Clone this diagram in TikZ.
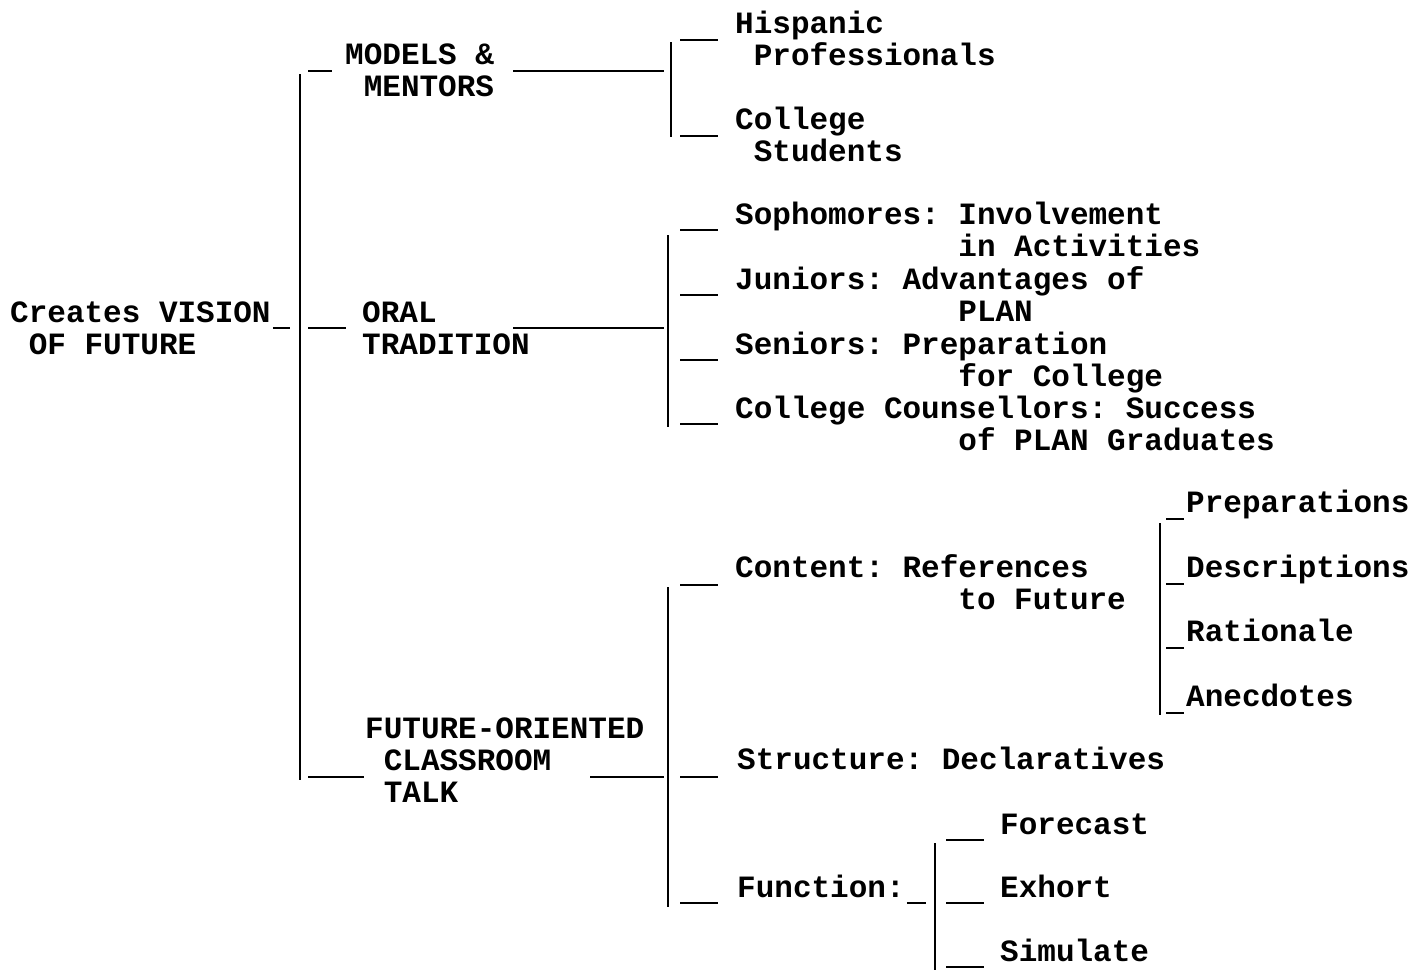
\documentclass[tikz,border=0pt]{standalone}
\usepackage{fontspec}
\setmonofont{Liberation Mono}
\usetikzlibrary{calc}
% indent by a number of typewriter columns
\newcommand{\tabto}[1]{\hspace*{#1\fontcharwd\font`M}}

\begin{document}
\begin{tikzpicture}[x=1pt,y=-1pt,
    every node/.style={font=\ttfamily\bfseries\fontsize{31}{32}\selectfont\frenchspacing,
      inner sep=0pt, anchor=base west, align=left},
    link/.style={line width=2.3pt}]
  \useasboundingbox (0,0) rectangle (1419,970);

  % bar positions
  \coordinate (bar0) at (300,0);
  \coordinate (bar1) at (668,0);
  \coordinate (bar4) at (1160,0);
  \coordinate (bar5) at (935,0);

  % texts (base = last line)
  \node (root) at (10,354) {Creates VISION\\\tabto{1}OF FUTURE};
  \node (models) at (345,96) {MODELS \&\\\tabto{1}MENTORS};
  \node (oral) at (362,354) {ORAL\\TRADITION};
  \node (future) at (365,802) {FUTURE-ORIENTED\\\tabto{1}CLASSROOM\\\tabto{1}TALK};

  \node (hisp) at (735,65) {Hispanic\\\tabto{1}Professionals};
  \node (colst) at (735,161) {College\\\tabto{1}Students};

  \node (soph) at (735,256) {Sophomores: Involvement\\\tabto{12}in Activities};
  \node (jun) at (735,321) {Juniors: Advantages of\\\tabto{12}PLAN};
  \node (sen) at (735,386) {Seniors: Preparation\\\tabto{12}for College};
  \node (couns) at (735,450) {College Counsellors: Success\\\tabto{12}of PLAN Graduates};

  \node (content) at (735,609) {Content: References\\\tabto{12}to Future};
  \node (struct) at (737,769) {Structure: Declaratives};
  \node (func) at (737,897) {Function:};

  \node (prep) at (1186,512) {Preparations};
  \node (desc) at (1186,577) {Descriptions};
  \node (rat) at (1186,641) {Rationale};
  \node (anec) at (1186,706) {Anecdotes};

  \node (fore) at (1000,834) {Forecast};
  \node (exh) at (1000,897) {Exhort};
  \node (sim) at (1000,961) {Simulate};

  % main bracket
  \draw[link] ($(root.base east)+(2,-26)$) -- ($(bar0 |- root.base)+(-10,-26)$);
  \draw[link] ($(bar0 |- models.base)+(0,-22)$) -- ($(bar0 |- future.base)+(0,-22)$);
  \draw[link] ($(bar0 |- models.base)+(8,-25)$) -- ++(24,0);
  \draw[link] ($(bar0 |- oral.base)+(8,-26)$) -- ++(38,0);
  \draw[link] ($(bar0 |- future.base)+(8,-25)$) -- ++(56,0);

  % models & mentors
  \draw[link] ($(models.base east)+(19,-25)$) -- ($(bar1 |- models.base)+(-4,-25)$);
  \draw[link] ($(bar1 |- hisp.base)+(3,-23)$) -- ($(bar1 |- colst.base)+(3,-24)$);
  \foreach \n in {hisp,colst}
    \draw[link] ($(bar1 |- \n.base)+(12,-25)$) -- ++(38,0);

  % oral tradition
  \draw[link] ($(oral.base west)+(151,-26)$) -- ($(bar1 |- oral.base)+(-4,-26)$);
  \draw[link] ($(bar1 |- soph.base)+(0,-21)$) -- ($(bar1 |- couns.base)+(0,-23)$);
  \foreach \n in {soph,jun,sen,couns}
    \draw[link] ($(bar1 |- \n.base)+(12,-26)$) -- ++(38,0);

  % classroom talk
  \draw[link] ($(future.base west)+(225,-25)$) -- ($(bar1 |- future.base)+(-4,-25)$);
  \draw[link] ($(bar1 |- content.base)+(0,-22)$) -- ($(bar1 |- func.base)+(0,10)$);
  \draw[link] ($(bar1 |- content.base)+(12,-24)$) -- ++(38,0);
  \draw[link] ($(bar1 |- struct.base)+(12,8)$) -- ++(38,0);
  \draw[link] ($(bar1 |- func.base)+(12,6)$) -- ++(38,0);

  % content details
  \draw[link] ($(bar4 |- prep.base)+(0,11)$) -- ($(bar4 |- anec.base)+(0,9)$);
  \foreach \n in {prep,desc,rat,anec}
    \draw[link] ($(bar4 |- \n.base)+(6,7)$) -- ++(18,0);

  % function
  \draw[link] ($(func.base east)+(2,6)$) -- ($(bar5 |- func.base)+(-9,6)$);
  \draw[link] ($(bar5 |- fore.base)+(0,9)$) -- ($(bar5 |- sim.base)+(0,9)$);
  \foreach \n in {fore,exh,sim}
    \draw[link] ($(bar5 |- \n.base)+(11,6)$) -- ++(38,0);
\end{tikzpicture}
\end{document}
